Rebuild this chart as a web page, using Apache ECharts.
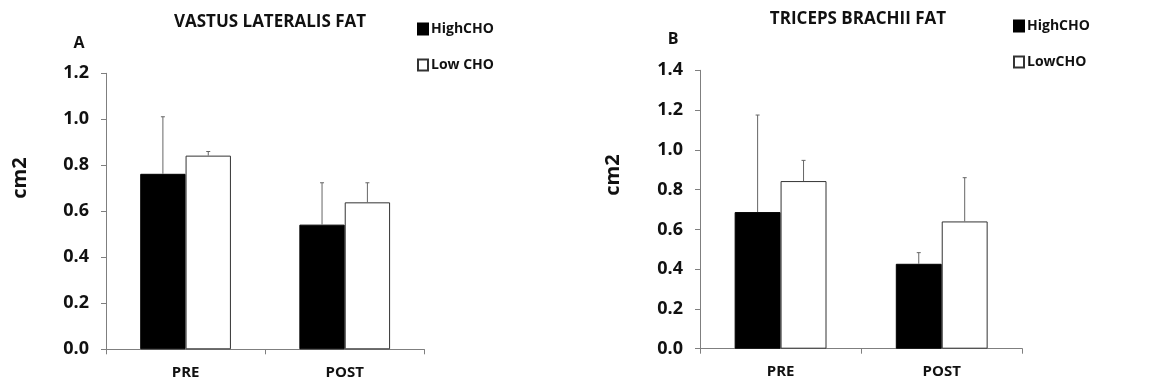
<!DOCTYPE html>
<html>
<head>
<meta charset="utf-8">
<script src="https://cdn.jsdelivr.net/npm/echarts@6/dist/echarts.min.js"></script>
<style>
html,body{margin:0;padding:0;background:#fff;}
#chart{width:1158px;height:387px;}
</style>
</head>
<body>
<div id="chart"></div>
<script>
// ---- data ----
const categories = ['PRE', 'POST'];
const yTicksA = [0, 0.2, 0.4, 0.6, 0.8, 1.0, 1.2];
const yTicksB = [0, 0.2, 0.4, 0.6, 0.8, 1.0, 1.2, 1.4];

const vlHigh = [0.763, 0.542];
const vlHighErr = [0.248, 0.182];
const vlLow = [0.842, 0.639];
const vlLowErr = [0.018, 0.085];

const tbHigh = [0.687, 0.427];
const tbHighErr = [0.488, 0.056];
const tbLow = [0.843, 0.640];
const tbLowErr = [0.104, 0.220];

// ---- styling ----
const FONT = '"Open Sans"';
const TXT = '#111';
const AXIS = '#7f7f7f';
const CAT_GAP = 0.43;

function errData(vals, errs, side) {
  return vals.map((v, i) => [i, v, v + errs[i], side]);
}

function renderErr(params, api) {
  const ci = api.value(0);
  const base = api.coord([ci, api.value(1)]);
  const top = api.coord([ci, api.value(2)]);
  const band = api.size([1, 0])[0];
  const bw = band * (1 - CAT_GAP) / 2;
  const x = base[0] + api.value(3) * bw / 2;
  const cap = 2;
  const st = { stroke: '#666', lineWidth: 1 };
  return {
    type: 'group',
    children: [
      { type: 'line', shape: { x1: x, y1: base[1], x2: x, y2: top[1] }, style: st },
      { type: 'line', shape: { x1: x - cap, y1: top[1], x2: x + cap, y2: top[1] }, style: st }
    ]
  };
}

function xAxis(gi) {
  return {
    type: 'category', gridIndex: gi, data: categories,
    axisLine: { lineStyle: { color: AXIS, width: 1 } },
    axisTick: { show: true, length: 5, lineStyle: { color: AXIS } },
    axisLabel: { color: TXT, fontFamily: FONT, fontWeight: 'bold', fontSize: 15, margin: 16 }
  };
}
function yAxis(gi, ticks) {
  return {
    type: 'value', gridIndex: gi,
    min: ticks[0], max: ticks[ticks.length - 1], interval: ticks[1] - ticks[0],
    splitLine: { show: false },
    axisLine: { show: true, lineStyle: { color: AXIS, width: 1 } },
    axisTick: { show: true, length: 5, lineStyle: { color: AXIS } },
    axisLabel: { color: TXT, fontFamily: FONT, fontWeight: 'bold', fontSize: 18, margin: 17,
      formatter: v => v.toFixed(1) }
  };
}

const highStyle = { color: '#000', borderColor: '#000', borderWidth: 1 };
const lowStyle = { color: '#fff', borderColor: '#333', borderWidth: 1 };

const option = {
  animation: false,
  backgroundColor: '#fff',
  title: [
    { text: 'VASTUS LATERALIS FAT', left: 265, top: 9, textAlign: 'center',
      textStyle: { fontFamily: FONT, fontWeight: 'bold', fontSize: 17, color: TXT } },
    { text: 'TRICEPS BRACHII FAT', left: 853, top: 6, textAlign: 'center',
      textStyle: { fontFamily: FONT, fontWeight: 'bold', fontSize: 17, color: TXT } },
    { text: 'A', left: 74, top: 30, textAlign: 'center',
      textStyle: { fontFamily: FONT, fontWeight: 'bold', fontSize: 16, color: TXT } },
    { text: 'B', left: 668, top: 26, textAlign: 'center',
      textStyle: { fontFamily: FONT, fontWeight: 'bold', fontSize: 16, color: TXT } }
  ],
  legend: [
    { data: ['HighCHO', 'Low CHO'], orient: 'vertical', left: 412, top: 17,
      itemWidth: 10, itemHeight: 11, itemGap: 22, icon: 'rect',
      textStyle: { fontFamily: FONT, fontWeight: 'bold', fontSize: 14, color: TXT, padding: [0, 0, 0, -2] } },
    { data: ['HighCHO', 'LowCHO'], orient: 'vertical', left: 1008, top: 14,
      itemWidth: 10, itemHeight: 11, itemGap: 22, icon: 'rect',
      textStyle: { fontFamily: FONT, fontWeight: 'bold', fontSize: 14, color: TXT, padding: [0, 0, 0, -2] } }
  ],
  graphic: [
    { type: 'text', x: 20, y: 178, rotation: Math.PI / 2,
      style: { text: 'cm2', fill: TXT, font: 'bold 20px "Open Sans"', textAlign: 'center', textVerticalAlign: 'middle' } },
    { type: 'text', x: 613, y: 175, rotation: Math.PI / 2,
      style: { text: 'cm2', fill: TXT, font: 'bold 20px "Open Sans"', textAlign: 'center', textVerticalAlign: 'middle' } }
  ],
  grid: [
    { left: 106, top: 73.3, width: 318.3, height: 276 },
    { left: 700, top: 70.3, width: 322.3, height: 278.4 }
  ],
  xAxis: [xAxis(0), xAxis(1)],
  yAxis: [yAxis(0, yTicksA), yAxis(1, yTicksB)],
  series: [
    { name: 'HighCHO', type: 'bar', xAxisIndex: 0, yAxisIndex: 0, data: vlHigh,
      barGap: '0%', barCategoryGap: (CAT_GAP * 100) + '%', itemStyle: highStyle },
    { name: 'Low CHO', type: 'bar', xAxisIndex: 0, yAxisIndex: 0, data: vlLow,
      barGap: '0%', barCategoryGap: (CAT_GAP * 100) + '%', itemStyle: lowStyle },
    { name: 'HighCHO', type: 'bar', xAxisIndex: 1, yAxisIndex: 1, data: tbHigh,
      barGap: '0%', barCategoryGap: (CAT_GAP * 100) + '%', itemStyle: highStyle },
    { name: 'LowCHO', type: 'bar', xAxisIndex: 1, yAxisIndex: 1, data: tbLow,
      barGap: '0%', barCategoryGap: (CAT_GAP * 100) + '%', itemStyle: lowStyle },
    { name: 'errA1', type: 'custom', xAxisIndex: 0, yAxisIndex: 0, z: 5,
      data: errData(vlHigh, vlHighErr, -1), renderItem: renderErr },
    { name: 'errA2', type: 'custom', xAxisIndex: 0, yAxisIndex: 0, z: 5,
      data: errData(vlLow, vlLowErr, 1), renderItem: renderErr },
    { name: 'errB1', type: 'custom', xAxisIndex: 1, yAxisIndex: 1, z: 5,
      data: errData(tbHigh, tbHighErr, -1), renderItem: renderErr },
    { name: 'errB2', type: 'custom', xAxisIndex: 1, yAxisIndex: 1, z: 5,
      data: errData(tbLow, tbLowErr, 1), renderItem: renderErr }
  ]
};

const chart = echarts.init(document.getElementById('chart'), null, { renderer: 'canvas' });
chart.setOption(option);
</script>
</body>
</html>
